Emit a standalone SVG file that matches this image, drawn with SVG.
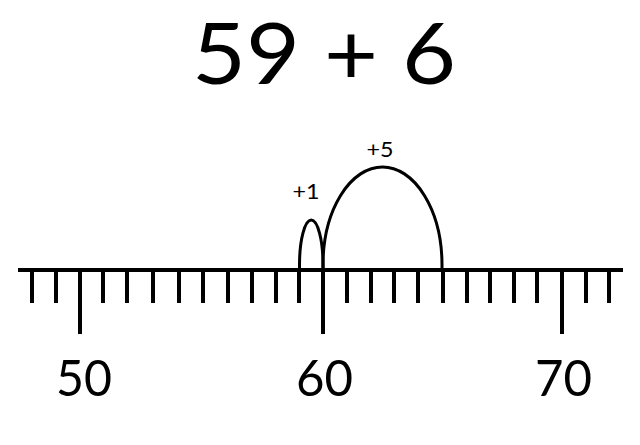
<svg xmlns="http://www.w3.org/2000/svg" width="640" height="445" viewBox="0 0 640 445">
<style>
text{font-family:Lato,"Open Sans","Liberation Sans",sans-serif;fill:#000;text-anchor:middle}
.t{stroke:#000;stroke-width:4;fill:none}
.arc{stroke:#000;stroke-width:3;fill:none}
</style>
<rect width="640" height="445" fill="#fff"/>
<g id="title"><text x="324" y="84" font-size="85" textLength="264" lengthAdjust="spacingAndGlyphs">59 + 6</text></g>
<g id="numberline">
<line class="t" x1="18" y1="270" x2="623" y2="270"/>
<path class="t" d="M32 270V303M56 270V303M103 270V303M127 270V303M153 270V303M179 270V303M203 270V303M228 270V303M252 270V303M276 270V303M299 270V303M347 270V303M371 270V303M394 270V303M418 270V303M443 270V303M467 270V303M490 270V303M514 270V303M537 270V303M586 270V303M609 270V303"/>
<path class="t" d="M80 270V334M323 270V334M562 270V334"/>
</g>
<g id="labels">
<text x="84" y="396" font-size="50" textLength="56" lengthAdjust="spacingAndGlyphs">50</text>
<text x="324.5" y="396" font-size="50" textLength="57" lengthAdjust="spacingAndGlyphs">60</text>
<text x="563.5" y="396" font-size="50" textLength="57" lengthAdjust="spacingAndGlyphs">70</text>
</g>
<g id="connectors">
<path class="arc" d="M299.5 268V265A11.75 45 0 0 1 323 265V268"/>
<path class="arc" d="M323 268V265A59.5 98 0 0 1 442 265V268"/>
</g>
<g id="jump-labels">
<text x="306" y="199" font-size="21" textLength="27" lengthAdjust="spacingAndGlyphs">+1</text>
<text x="380" y="157" font-size="21" textLength="27" lengthAdjust="spacingAndGlyphs">+5</text>
</g>
</svg>
